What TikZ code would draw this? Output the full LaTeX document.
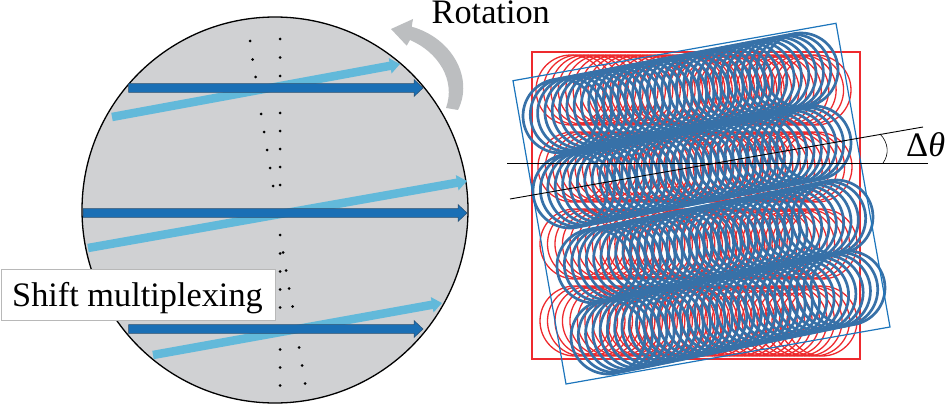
\documentclass[tikz,border=0pt]{standalone}
\usepackage{fontspec}
\setmainfont{Liberation Serif}
\usetikzlibrary{arrows.meta}
\definecolor{discgray}{HTML}{D0D1D3}
\definecolor{rotgray}{HTML}{BCBEC0}
\definecolor{darkarrow}{HTML}{1A6FB5}
\definecolor{darkedge}{HTML}{2A4F70}
\definecolor{lightarrow}{HTML}{62B9DA}
\definecolor{redline}{HTML}{EE2A2E}
\definecolor{bluecirc}{HTML}{3771A8}
\definecolor{bluerect}{HTML}{1C75BC}
\tikzset{
  disc/.style={draw=black,line width=1.3pt,fill=discgray},
  lightbeam/.style={draw=lightarrow,line width=8.5pt,-{Triangle[length=10pt,width=15pt]}},
  darkbeam/.style={fill=darkarrow,draw=darkedge,line width=0.5pt},
  dot/.style={fill=black,inner sep=0pt,minimum size=3pt,circle},
  bigtext/.style={font=\fontsize{34.3pt}{36pt}\selectfont,inner sep=0pt,anchor=base west,text=black},
  thinline/.style={draw=black,line width=0.9pt},
  redcirc/.style={draw=redline,line width=1.3pt},
  bluecircle/.style={draw=bluecirc,line width=2.7pt}
}
\newcommand{\darkshaft}[3]{%
  \fill[darkbeam] (#1,#3-4.3) -- (#2-9,#3-4.3) -- (#2-9,#3-8.5) -- (#2,#3) -- (#2-9,#3+8.5) -- (#2-9,#3+4.3) -- (#1,#3+4.3) -- cycle;}
\begin{document}
\begin{tikzpicture}[x=1pt,y=-1pt]
\useasboundingbox (0,0) rectangle (946,404);
% disc
\draw[disc] (275,210) circle[radius=193pt];
% light beams
\coordinate (la1) at (112,117); \coordinate (lb1) at (400,64);
\coordinate (la2) at (88,248);  \coordinate (lb2) at (467,181);
\coordinate (la3) at (153,355); \coordinate (lb3) at (442,303);
\draw[lightbeam] (la1) -- (lb1);
\draw[lightbeam] (la2) -- (lb2);
\draw[lightbeam] (la3) -- (lb3);
% dark beams
\darkshaft{128.5}{423}{88}
\darkshaft{83}{467}{213}
\darkshaft{128.5}{423}{329}
% dots
\foreach \px/\py in {280/39,280/57.5,280/76,280/113,280/131,280/149,280/167,280/185,
  250/41,252.7/59.5,255.7/77,261/114,264/132,267/150,270/168,273/186,
  280/235,280/253.5,280/271.5,280/289.5,280/307.5,283/252.5,286/270.5,289/288.5,292.5/306.5,
  280/349.5,280/367.5,280/385.5,299/347.5,302/365.5,305/383.5}
  {\node[dot] at (\px,\py) {};}
% rotation arrow
\fill[rotgray] (446,108) .. controls (456,80) and (438,52) .. (410,40) -- (406.7,45.7) -- (391,29) -- (413,19) -- (411.7,26.7) .. controls (452,38) and (474,78) .. (458,110) -- cycle;
\node[bigtext] (rotlabel) at (431.5,24) {Rotation};
% label box
\node[draw=black!28,fill=white,line width=0.8pt,anchor=north west,minimum width=274.5pt,minimum height=51.5pt,inner sep=0pt] (boxlabel) at (0.7,268.8) {};
\node[bigtext] (shiftlabel) at (12,306) {Shift multiplexing};
% red circles
\foreach \xa/\ya/\xb/\yb in {571/90/816/90,573/167/817/167,575/244/822/244,575/321/822/321}{
  \foreach \k in {0,...,33}{
    \pgfmathsetmacro{\cx}{\xa+(\xb-\xa)*\k/33}
    \pgfmathsetmacro{\cy}{\ya+(\yb-\ya)*\k/33}
    \draw[redcirc] (\cx,\cy) circle[radius=35pt];
  }
}
\draw[draw=redline,line width=1.5pt] (532,52) rectangle (860,359);
% blue circles
\foreach \xa/\ya/\xb/\yb in {560/116/801/70,570/191/814/143,594/266/836/217,608/337/848/288}{
  \foreach \k in {0,...,33}{
    \pgfmathsetmacro{\cx}{\xa+(\xb-\xa)*\k/33}
    \pgfmathsetmacro{\cy}{\ya+(\yb-\ya)*\k/33}
    \draw[bluecircle] (\cx,\cy) circle[radius=37pt];
  }
}
\draw[draw=bluerect,line width=1.2pt] (513,80.7) -- (836,23.3) -- (890,327) -- (566,384) -- cycle;
% angle
\coordinate (ha) at (507,163); \coordinate (hb) at (928,163);
\coordinate (ta) at (510,199); \coordinate (tb) at (923,127);
\draw[thinline] (ha) -- (hb);
\draw[thinline] (ta) -- (tb);
\draw[draw=black,line width=0.6pt] (883,163) .. controls (889,155) and (889,143) .. (880,134);
\node[bigtext] (dtheta) at (906,156) {Δ\textit{θ}};
\end{tikzpicture}
\end{document}
